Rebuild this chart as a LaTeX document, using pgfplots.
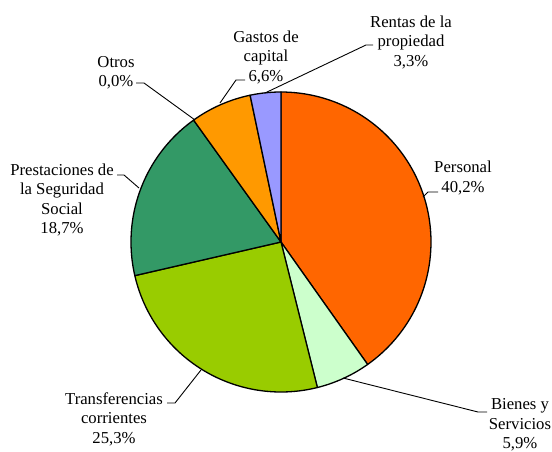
\documentclass[border=0pt]{standalone}
\usepackage{pgfplots}
\pgfplotsset{compat=1.18}
\usepackage{fontspec}
\setmainfont{LiberationSerif}[Extension=.ttf,UprightFont=*-Regular,BoldFont=*-Bold,ItalicFont=*-Italic,BoldItalicFont=*-BoldItalic]
\definecolor{cPers}{HTML}{FF6600}
\definecolor{cBien}{HTML}{CCFFCC}
\definecolor{cTran}{HTML}{99CC00}
\definecolor{cPres}{HTML}{339966}
\definecolor{cOtro}{HTML}{3366FF}
\definecolor{cGast}{HTML}{FF9900}
\definecolor{cRent}{HTML}{9999FF}
% shares (percent), clockwise from 12 o'clock
\def\vPers{40.2}
\def\vBien{5.9}
\def\vTran{25.3}
\def\vPres{18.7}
\def\vOtro{0.0}
\def\vGast{6.6}
\def\vRent{3.3}
\pgfmathsetmacro{\aA}{90}
\pgfmathsetmacro{\aB}{\aA-3.6*\vPers}
\pgfmathsetmacro{\aC}{\aB-3.6*\vBien}
\pgfmathsetmacro{\aD}{\aC-3.6*\vTran}
\pgfmathsetmacro{\aE}{\aD-3.6*\vPres}
\pgfmathsetmacro{\aF}{\aE-3.6*\vOtro}
\pgfmathsetmacro{\aG}{\aF-3.6*\vGast}
\pgfmathsetmacro{\aH}{\aG-3.6*\vRent}
\newcommand{\pieslice}[3]{%
  \addplot[fill=#1,draw=black,line width=1.3pt,line join=round,domain=#3:#2,samples=80]
    ({281+150*cos(x)},{242-150*sin(x)}) -- (axis cs:281,242) -- cycle;}
\begin{document}
\begin{tikzpicture}
\begin{axis}[name=ax,width=552pt,height=452pt,scale only axis,
  xmin=0,xmax=552,ymin=0,ymax=452,y dir=reverse,hide axis,clip=false,
  nodes={font=\rmfamily\fontsize{16.7}{19.5}\selectfont,align=center,inner sep=0pt}]
\pieslice{cPers}{\aA}{\aB}
\pieslice{cBien}{\aB}{\aC}
\pieslice{cTran}{\aC}{\aD}
\pieslice{cPres}{\aD}{\aE}
\pieslice{cGast}{\aF}{\aG}
\pieslice{cRent}{\aG}{\aH}
% leader lines
\addplot[black,line width=0.9pt] coordinates {(265,93) (366,45) (373,45)};
\addplot[black,line width=0.9pt] coordinates {(220,103) (236,80) (245,80)};
\addplot[black,line width=0.9pt] coordinates {(195,120) (144,83) (136,83)};
\addplot[black,line width=0.9pt] coordinates {(139,188) (124,175) (117,175)};
\addplot[black,line width=0.9pt] coordinates {(423,197) (428,192) (438,192)};
\addplot[black,line width=0.9pt] coordinates {(201,370) (175,403) (167,403)};
\addplot[black,line width=0.9pt] coordinates {(343,378) (478,412) (487,412)};
% labels
\node at (axis cs:411,42) {Rentas de la\\propiedad\\3,3\%};
\node at (axis cs:266,57) {Gastos de\\capital\\6,6\%};
\node at (axis cs:116,73) {Otros\\0,0\%};
\node at (axis cs:62,200) {Prestaciones de\\la Seguridad\\Social\\18,7\%};
\node at (axis cs:463,178) {Personal\\40,2\%};
\node at (axis cs:114,419) {Transferencias\\corrientes\\25,3\%};
\node at (axis cs:520,425) {Bienes y\\Servicios\\5,9\%};
\end{axis}
\pgfresetboundingbox
\path (ax.south west) rectangle (ax.north east);
\end{tikzpicture}
\end{document}
